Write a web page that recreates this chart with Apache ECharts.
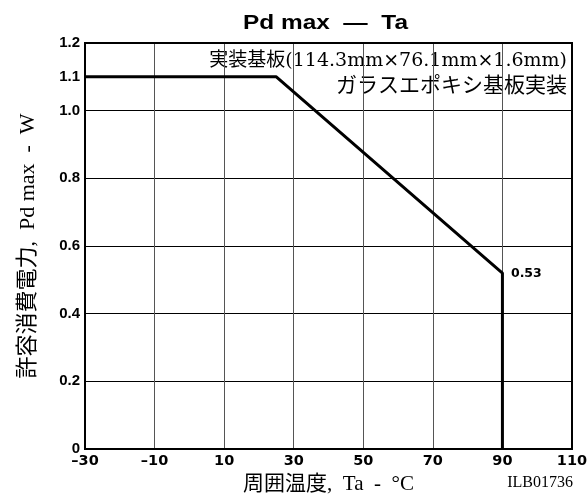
<!DOCTYPE html>
<html><head><meta charset="utf-8">
<script src="https://cdn.jsdelivr.net/npm/echarts@6/dist/echarts.min.js"></script>
<style>html,body{margin:0;padding:0;background:#fff}#c{width:587px;height:494px}</style>
</head><body><div id="c"></div>
<script>
const temps = [-30, 25, 90, 90];
const power = [1.1, 1.1, 0.52, 0];
const pointLabel = '0.53';
const yLabels = {'0':'0','0.2':'0.2','0.4':'0.4','0.6':'0.6','0.8':'0.8','1':'1.0','1.1':'1.1','1.2':'1.2'};
const titleText = 'Pd max  \u2014  Ta';
const noteLine1 = '実装基板(114.3mm×76.1mm×1.6mm)';
const noteLine2 = 'ガラスエポキシ基板実装';
const xName = '周囲温度,  Ta  -  °C';
const yName = '許容消費電力,  Pd max  -  W';
const code = 'ILB01736';

const serif = "'DejaVu Serif','Noto Sans CJK JP'";
const lserif = "'Liberation Serif','Noto Sans CJK JP'";
const sans = "'DejaVu Sans'";
const chart = echarts.init(document.getElementById('c'), null, {renderer:'canvas'});
const data = temps.map((t,i)=> i===2 ? {value:[t,power[i]], symbol:'circle', symbolSize:1,
  label:{show:true, position:'right', offset:[3,1], formatter:pointLabel, color:'#000', fontFamily:sans, fontSize:12.5, fontWeight:'bold'}} : [t,power[i]]);
chart.setOption({
  animation:false,
  grid:{left:85, right:15, top:43, bottom:45, containLabel:false, outerBoundsMode:'none'},
  graphic:[
    {type:'text', x:243, y:13, scaleX:1.22, style:{text:titleText, fontSize:20, fontWeight:'bold', fontFamily:'Liberation Sans', fill:'#000'}},
    {type:'text', right:20, top:52, style:{text:noteLine1, fontSize:19, fontFamily:serif, fill:'#000'}},
    {type:'text', right:20, top:76, style:{text:noteLine2, fontSize:21, fontFamily:serif, fill:'#000'}},
    {type:'text', right:14, top:475, style:{text:code, fontSize:16, fontFamily:lserif, fill:'#000'}},
    {type:'rect', shape:{x:85, y:43, width:487, height:406}, style:{fill:'none', stroke:'#000', lineWidth:2}, silent:true, z:10}
  ],
  xAxis:{type:'value', min:-30, max:110, interval:20,
    name:xName, nameLocation:'middle', nameGap:25,
    nameTextStyle:{fontFamily:lserif, fontSize:21, color:'#000'},
    axisLine:{show:true, onZero:false, lineStyle:{color:'#000', width:2}},
    axisTick:{show:false},
    axisLabel:{color:'#000', fontFamily:sans, fontWeight:'bold', fontSize:14.5, margin:5,
      formatter:v=> v<0 ? '\u2013'+Math.abs(v) : String(v)},
    splitLine:{show:true, lineStyle:{color:'#555', width:1}}
  },
  yAxis:{type:'value', min:0, max:1.2, interval:0.1,
    name:yName, nameLocation:'middle', nameGap:46, nameRotate:90,
    nameTextStyle:{fontFamily:lserif, fontSize:22, color:'#000'},
    axisLine:{show:true, onZero:false, lineStyle:{color:'#000', width:2}},
    axisTick:{show:false},
    axisLabel:{color:'#000', fontFamily:'Liberation Sans', fontWeight:'bold', fontSize:15, margin:5,
      formatter:v=>{const k=String(Math.round(v*10)/10); return yLabels[k]!==undefined?yLabels[k]:'';}},
    splitLine:{show:true, lineStyle:{color:['#000','rgba(0,0,0,0)'], width:1}}
  },
  series:[{type:'line', data:data, symbol:'none', itemStyle:{color:'#000'}, lineStyle:{color:'#000', width:3}, clip:false}]
});
</script></body></html>
